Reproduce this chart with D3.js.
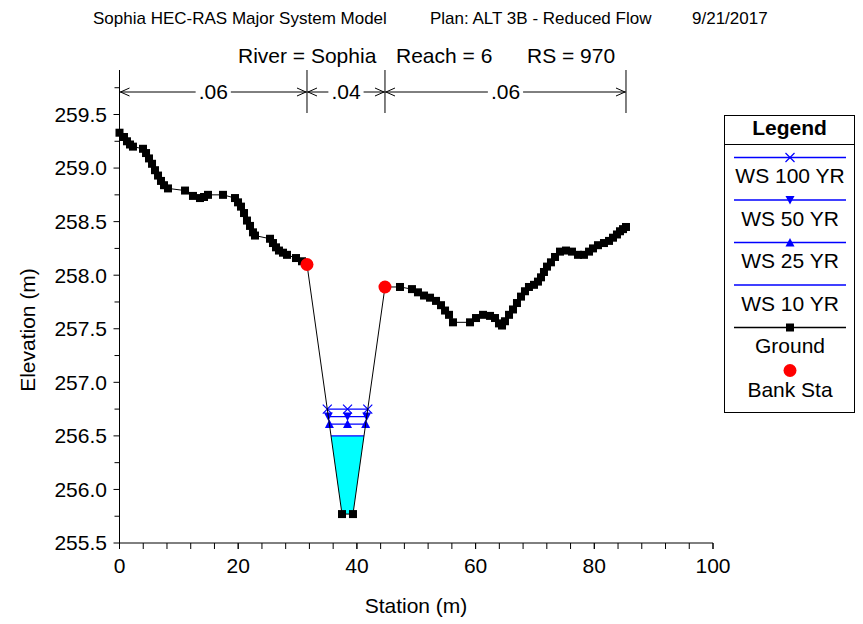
<!DOCTYPE html>
<html><head><meta charset="utf-8">
<script src="https://cdn.jsdelivr.net/npm/d3@7"></script>
<style>body{margin:0;background:#fff}svg{display:block}text{font-family:"Liberation Sans",Arial,sans-serif;fill:#000}</style>
</head><body><svg id="c" width="863" height="624"></svg>
<script>
// ---- data ----
const groundStation = [0.0,0.76,1.26,1.77,2.27,3.96,4.47,4.97,5.48,5.98,6.49,6.99,7.50,8.17,11.04,12.38,13.56,14.24,14.91,17.44,19.46,19.97,20.47,20.98,21.48,21.99,22.49,22.83,25.36,25.86,26.37,26.87,27.55,28.22,29.74,30.75,31.59,37.49,39.34,44.73,47.26,49.28,50.29,51.31,52.32,53.33,54.17,54.85,55.52,56.19,59.06,60.07,61.25,62.43,63.27,63.94,64.45,64.95,65.63,66.30,66.97,67.65,68.32,68.99,69.84,70.51,71.02,71.52,72.03,72.70,73.38,74.22,75.23,76.24,77.25,78.26,79.11,79.78,80.62,81.63,82.48,83.15,83.82,84.33,84.84,85.34];
const groundElev = [259.33,259.29,259.25,259.22,259.20,259.18,259.14,259.09,259.04,258.98,258.93,258.88,258.84,258.81,258.79,258.74,258.72,258.73,258.75,258.75,258.72,258.68,258.64,258.58,258.51,258.46,258.40,258.37,258.34,258.30,258.26,258.23,258.21,258.19,258.16,258.13,258.10,255.77,255.77,257.89,257.89,257.87,257.84,257.81,257.79,257.76,257.72,257.67,257.63,257.56,257.56,257.60,257.63,257.62,257.60,257.55,257.53,257.57,257.63,257.68,257.74,257.80,257.85,257.89,257.91,257.94,257.98,258.03,258.08,258.12,258.17,258.22,258.23,258.22,258.19,258.19,258.22,258.25,258.28,258.30,258.32,258.35,258.38,258.41,258.43,258.45];
const bankStations = [31.59, 44.73];
const wsNames = ["WS 100 YR","WS 50 YR","WS 25 YR","WS 10 YR"];
const wsElev = [256.75, 256.68, 256.61, 256.50];
const wsMarker = ["x","down","up","none"];
const manningBreaks = [0, 31.59, 44.73, 85.34];
const manningN = [".06", ".04", ".06"];
const xTicks = [0,20,40,60,80,100];
const yTicks = [255.5,256.0,256.5,257.0,257.5,258.0,258.5,259.0,259.5];
const headerTexts = ["Sophia HEC-RAS Major System Model","Plan: ALT 3B - Reduced Flow","9/21/2017"];
const titleTexts = ["River = Sophia","Reach = 6","RS = 970"];

// ---- layout ----
const svg = d3.select("#c");
const x = d3.scaleLinear().domain([0,100]).range([119.5,713]);
const y = d3.scaleLinear().domain([255.5,259.5]).range([543,114.5]);
const plotTop = 70;
const BLUE = "#0000ff";
const FS = 21;

const ground = groundStation.map((s,i)=>({s, e: groundElev[i]}));

// header
const hx = [93,430,692];
headerTexts.forEach((t,i)=>svg.append("text").attr("x",hx[i]).attr("y",24).attr("font-size",17).text(t));
const tx = [238,396,527];
titleTexts.forEach((t,i)=>svg.append("text").attr("x",tx[i]).attr("y",62.5).attr("font-size",FS).text(t));

// water surface crossings
function crossings(elev){
  let mi = 0; ground.forEach((g,i)=>{ if (g.e < ground[mi].e) mi = i; });
  let li = mi; while (li>0 && ground[li-1].e < elev) li--;
  let ri = mi; while (ri<ground.length-1 && ground[ri+1].e < elev) ri++;
  const a = ground[li-1], b = ground[li];
  const sl = a.s + (elev - a.e)/(b.e - a.e)*(b.s - a.s);
  const c = ground[ri], d = ground[ri+1];
  const sr = c.s + (elev - c.e)/(d.e - c.e)*(d.s - c.s);
  return {sl, sr, inner: ground.slice(li, ri+1)};
}

// fill for lowest WS
{
  const k = wsElev.length-1;
  const cr = crossings(wsElev[k]);
  const pts = [{s:cr.sl,e:wsElev[k]}, ...cr.inner, {s:cr.sr,e:wsElev[k]}];
  svg.append("path").attr("d", d3.line().x(d=>x(d.s)).y(d=>y(d.e))(pts)+"Z")
    .attr("fill","#00ffff").attr("stroke","none");
}

// markers
function drawMarker(g, type, cx, cy, color){
  if (type==="x"){
    g.append("path").attr("d",`M${cx-4.5},${cy-4.5}L${cx+4.5},${cy+4.5}M${cx-4.5},${cy+4.5}L${cx+4.5},${cy-4.5}`).attr("stroke",color).attr("stroke-width",1.2).attr("fill","none");
  } else if (type==="down"){
    g.append("path").attr("d",`M${cx-4.5},${cy-4}L${cx+4.5},${cy-4}L${cx},${cy+4.5}Z`).attr("fill",color);
  } else if (type==="up"){
    g.append("path").attr("d",`M${cx-4.5},${cy+4}L${cx+4.5},${cy+4}L${cx},${cy-4.5}Z`).attr("fill",color);
  } else if (type==="square"){
    g.append("rect").attr("x",cx-4).attr("y",cy-4).attr("width",8).attr("height",8).attr("fill",color);
  } else if (type==="circle"){
    g.append("circle").attr("cx",cx).attr("cy",cy).attr("r",6.5).attr("fill",color);
  }
}

// WS lines
wsElev.forEach((el,i)=>{
  const cr = crossings(el);
  svg.append("line").attr("x1",x(cr.sl)).attr("x2",x(cr.sr)).attr("y1",y(el)).attr("y2",y(el))
    .attr("stroke",BLUE).attr("stroke-width",1.3);
});
wsElev.forEach((el,i)=>{
  if (wsMarker[i]==="none") return;
  const cr = crossings(el);
  [cr.sl, (cr.sl+cr.sr)/2, cr.sr].forEach(s=>drawMarker(svg, wsMarker[i], x(s), y(el), BLUE));
});

// ground
svg.append("path").attr("d", d3.line().x(d=>x(d.s)).y(d=>y(d.e))(ground))
  .attr("fill","none").attr("stroke","#000").attr("stroke-width",1);
ground.forEach(g=>{ if (!bankStations.includes(g.s)) drawMarker(svg,"square",x(g.s),y(g.e),"#000"); });
bankStations.forEach(bs=>{ const g = ground.find(d=>d.s===bs); drawMarker(svg,"circle",x(g.s),y(g.e),"#ff0000"); });

// axes
const ax = svg.append("g").attr("stroke","#000").attr("stroke-width",1);
ax.append("line").attr("x1",x(0)).attr("x2",x(0)).attr("y1",plotTop).attr("y2",543);
ax.append("line").attr("x1",x(0)).attr("x2",x(100)).attr("y1",543).attr("y2",543);
d3.range(255.5,259.76,0.25).forEach(v=>{
  const major = Math.abs(v*2-Math.round(v*2))<1e-6;
  ax.append("line").attr("x1",x(0)-(major?6:5)).attr("x2",x(0)).attr("y1",y(v)).attr("y2",y(v));
});
d3.range(0,100.1,4).forEach(v=>{
  ax.append("line").attr("x1",x(v)).attr("x2",x(v)).attr("y1",543).attr("y2",549);
});
xTicks.forEach(v=>ax.append("line").attr("x1",x(v)).attr("x2",x(v)).attr("y1",543).attr("y2",549));
yTicks.forEach(v=>svg.append("text").attr("x",107).attr("y",y(v)).attr("dy","0.35em").attr("text-anchor","end").attr("font-size",FS).text(v.toFixed(1)));
xTicks.forEach(v=>svg.append("text").attr("x",x(v)).attr("y",573).attr("text-anchor","middle").attr("font-size",FS).text(v));
svg.append("text").attr("x",416).attr("y",613).attr("text-anchor","middle").attr("font-size",FS).text("Station (m)");
svg.append("text").attr("transform","translate(35,330) rotate(-90)").attr("text-anchor","middle").attr("font-size",FS).text("Elevation (m)");

// Manning's n annotation
const ay = 92;
manningBreaks.forEach(s=>svg.append("line").attr("x1",x(s)).attr("x2",x(s)).attr("y1",plotTop).attr("y2",113).attr("stroke","#000"));
manningN.forEach((n,i)=>{
  const x0 = x(manningBreaks[i]), x1 = x(manningBreaks[i+1]), xm = (x0+x1)/2;
  const t = svg.append("text").attr("x",xm).attr("y",ay).attr("dy","0.35em").attr("text-anchor","middle").attr("font-size",FS).text(n);
  const w = t.node().getComputedTextLength();
  const g = svg.append("g").attr("stroke","#000").attr("fill","none");
  g.append("line").attr("x1",x0).attr("x2",xm-w/2-3).attr("y1",ay).attr("y2",ay);
  g.append("line").attr("x1",xm+w/2+3).attr("x2",x1).attr("y1",ay).attr("y2",ay);
  g.append("path").attr("d",`M${x0+10},${ay-4}L${x0+1},${ay}L${x0+10},${ay+4}`);
  g.append("path").attr("d",`M${x1-10},${ay-4}L${x1-1},${ay}L${x1-10},${ay+4}`);
});

// legend
const L = svg.append("g");
L.append("rect").attr("x",724.5).attr("y",115.5).attr("width",130).attr("height",297).attr("fill","#fff").attr("stroke","#000");
L.append("line").attr("x1",724.5).attr("x2",854.5).attr("y1",144.5).attr("y2",144.5).attr("stroke","#000");
L.append("text").attr("x",789.5).attr("y",128).attr("dy","0.35em").attr("text-anchor","middle").attr("font-size",FS).attr("font-weight","bold").text("Legend");
const legItems = wsNames.map((n,i)=>({name:n, color:BLUE, marker:wsMarker[i], line:true}))
  .concat([{name:"Ground",color:"#000",marker:"square",line:true},{name:"Bank Sta",color:"#ff0000",marker:"circle",line:false}]);
const legLineY = [157.5,200,242.5,285,327.5,370.5];
const legTextY = [176,218.5,261,304,346,390];
legItems.forEach((it,i)=>{
  if (it.line) L.append("line").attr("x1",734).attr("x2",846).attr("y1",legLineY[i]).attr("y2",legLineY[i]).attr("stroke",it.color).attr("stroke-width",1.3);
  if (it.marker!=="none") drawMarker(L, it.marker, 790, legLineY[i], it.color);
  L.append("text").attr("x",790).attr("y",legTextY[i]).attr("dy","0.35em").attr("text-anchor","middle").attr("font-size",FS).text(it.name);
});
</script></body></html>
